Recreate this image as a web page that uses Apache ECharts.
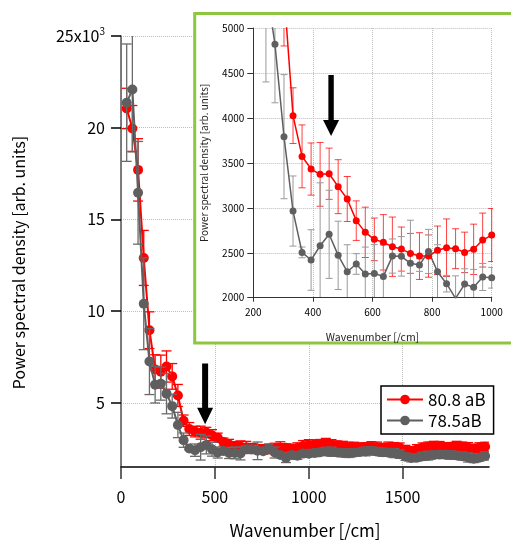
<!DOCTYPE html>
<html><head><meta charset="utf-8">
<script src="https://cdn.jsdelivr.net/npm/echarts@6/dist/echarts.min.js"></script>
<style>html,body{margin:0;padding:0;background:#fff}#c{width:511px;height:544px}</style>
</head><body><div id="c"></div>
<script>
const FONT = '"Noto Sans CJK JP", "Noto Sans", sans-serif';

// wavenumber [/cm] of each spectral point
const wavenumbers = [30.3, 60.6, 90.9, 121.2, 151.5, 181.8, 212.1, 242.4, 272.7, 303, 333.3, 363.6, 393.9, 424.2, 454.5, 484.8, 515.2, 545.5, 575.8, 606.1, 636.4, 666.7, 697, 727.3, 757.6, 787.9, 818.2, 848.5, 878.8, 909.1, 939.4, 969.7, 1000, 1030.3, 1060.6, 1090.9, 1121.2, 1151.5, 1181.8, 1212.1, 1242.4, 1272.7, 1303, 1333.3, 1363.6, 1393.9, 1424.2, 1454.5, 1484.8, 1515.2, 1545.5, 1575.8, 1606.1, 1636.4, 1666.7, 1697, 1727.3, 1757.6, 1787.9, 1818.2, 1848.5, 1878.8, 1909.1, 1939.4];

// 80.8 aB
const psdA = [21050, 19960, 17700, 12900, 8960, 6820, 6700, 6980, 6440, 5400, 4025, 3572, 3431, 3372, 3379, 3235, 3098, 2857, 2727, 2649, 2616, 2567, 2541, 2493, 2463, 2463, 2527, 2556, 2545, 2504, 2538, 2641, 2697, 2720, 2760, 2780, 2740, 2690, 2640, 2610, 2580, 2560, 2590, 2620, 2580, 2540, 2560, 2590, 2550, 2430, 2370, 2450, 2560, 2620, 2640, 2610, 2580, 2600, 2640, 2610, 2560, 2500, 2560, 2600];
const errA = [1100, 1250, 1700, 1500, 1000, 800, 900, 850, 700, 600, 310, 350, 290, 355, 285, 300, 250, 220, 280, 237, 308, 330, 245, 222, 260, 235, 270, 320, 222, 225, 280, 300, 295, 260, 240, 280, 250, 230, 260, 240, 270, 250, 230, 260, 280, 250, 300, 240, 260, 250, 230, 270, 250, 240, 260, 280, 250, 230, 260, 250, 270, 240, 260, 250];

// 78.5aB
const psdB = [21365, 22080, 16450, 10400, 7250, 5990, 6045, 5500, 4818, 3791, 2964, 2504, 2419, 2578, 2705, 2471, 2289, 2375, 2263, 2270, 2237, 2463, 2460, 2382, 2363, 2515, 2289, 2156, 1993, 2152, 2115, 2230, 2222, 2260, 2300, 2350, 2330, 2290, 2260, 2250, 2280, 2320, 2350, 2380, 2340, 2300, 2280, 2260, 2200, 2060, 1990, 2010, 2080, 2120, 2160, 2180, 2170, 2150, 2130, 2090, 2020, 1950, 2010, 2100];
const errB = [3200, 3400, 2800, 2500, 1800, 1000, 900, 1100, 650, 690, 390, 60, 337, 700, 490, 380, 300, 115, 300, 320, 350, 190, 220, 480, 70, 245, 300, 92, 250, 170, 200, 150, 115, 200, 180, 220, 250, 190, 210, 230, 200, 180, 240, 210, 190, 220, 200, 250, 230, 200, 210, 190, 220, 240, 200, 180, 210, 230, 200, 220, 250, 210, 190, 220];

const seriesNames = ['80.8 aB', '78.5aB'];
const mainXTicks = [0, 500, 1000, 1500];
const mainYTicks = [5000, 10000, 15000, 20000, 25000];

const RED = '#ff0000', GRAY = '#5f5f5f';

const pts = (v) => wavenumbers.map((x, i) => [x, v[i]]);
const errs = (v, e) => wavenumbers.map((x, i) => [x, v[i] - e[i], v[i] + e[i]]);
const plain = (v) => String(v);

function errRender(capHalf, color, lw) {
  return function (params, api) {
    const x = api.value(0), lo = api.value(1), hi = api.value(2);
    const pLo = api.coord([x, lo]), pHi = api.coord([x, hi]);
    const style = { stroke: color, lineWidth: lw, fill: null };
    return { type: 'group', children: [
      { type: 'line', shape: { x1: pLo[0], y1: pLo[1], x2: pHi[0], y2: pHi[1] }, style },
      { type: 'line', shape: { x1: pLo[0] - capHalf, y1: pLo[1], x2: pLo[0] + capHalf, y2: pLo[1] }, style },
      { type: 'line', shape: { x1: pHi[0] - capHalf, y1: pHi[1], x2: pHi[0] + capHalf, y2: pHi[1] }, style }
    ] };
  };
}

const chart = echarts.init(document.getElementById('c'), null, { renderer: 'canvas' });
const dotted = { show: true, lineStyle: { type: 'dotted', color: '#bdbdbd', width: 1 } };

const option = {
  animation: false,
  backgroundColor: '#fff',
  textStyle: { fontFamily: FONT },
  grid: [
    { left: 121, top: 36, width: 368, height: 435.5 },
    { left: 253.3, top: 28, width: 238.4, height: 269.7, z: 10 }
  ],
  xAxis: [
    { gridIndex: 0, type: 'value', min: 0, max: 1960,
      name: 'Wavenumber [/cm]', nameLocation: 'middle', nameGap: 55,
      nameTextStyle: { fontSize: 17, color: '#000', fontFamily: FONT },
      axisLine: { show: true, onZero: false, lineStyle: { color: '#000', width: 1.5 } },
      axisTick: { show: true, inside: false, length: 12, customValues: mainXTicks, lineStyle: { color: '#333', width: 1.5 } },
      axisLabel: { customValues: mainXTicks, formatter: plain, fontSize: 16, color: '#000', margin: 22, fontFamily: FONT },
      splitLine: dotted },
    { gridIndex: 1, type: 'value', min: 200, max: 1000, interval: 200, z: 12,
      name: 'Wavenumber [/cm]', nameLocation: 'middle', nameGap: 34,
      nameTextStyle: { fontSize: 10.5, color: '#222', fontFamily: FONT },
      axisLine: { show: true, onZero: false, lineStyle: { color: '#333', width: 1 } },
      axisTick: { show: true, length: 4, lineStyle: { color: '#333' } },
      axisLabel: { formatter: plain, fontSize: 10, color: '#000', margin: 10, fontFamily: FONT },
      splitLine: dotted }
  ],
  yAxis: [
    { gridIndex: 0, type: 'value', min: 1500, max: 25000,
      name: 'Power spectral density [arb. units]', nameLocation: 'middle', nameGap: 94,
      nameTextStyle: { fontSize: 16, color: '#000', fontFamily: FONT, padding: [0, 22, 0, 0] },
      axisLine: { show: true, onZero: false, lineStyle: { color: '#555', width: 1.5 } },
      axisTick: { show: true, length: 10, customValues: mainYTicks, lineStyle: { color: '#000', width: 1.5 } },
      axisLabel: { customValues: mainYTicks, fontSize: 16, color: '#000', margin: 16, fontFamily: FONT,
        formatter: (v) => v === 25000 ? '{a|25x10}{s|3}' : String(v / 1000),
        rich: { a: { fontSize: 16, fontFamily: FONT, color: '#000' },
                s: { fontSize: 10, fontFamily: FONT, color: '#000', padding: [0, 0, 10, 0] } } },
      splitLine: dotted },
    { gridIndex: 1, type: 'value', min: 2000, max: 5000, interval: 500, z: 12,
      name: 'Power spectral density [arb. units]', nameLocation: 'middle', nameGap: 44,
      nameTextStyle: { fontSize: 10, color: '#222', fontFamily: FONT },
      axisLine: { show: true, onZero: false, lineStyle: { color: '#333', width: 1 } },
      axisTick: { show: true, length: 6, lineStyle: { color: '#333' } },
      axisLabel: { formatter: plain, fontSize: 10, color: '#000', margin: 9, fontFamily: FONT },
      splitLine: dotted }
  ],
  legend: {
    data: seriesNames, orient: 'vertical', left: 381, top: 386,
    padding: [5, 8, 5, 5], itemGap: 4, itemWidth: 36, itemHeight: 12,
    borderColor: '#000', borderWidth: 1.5, backgroundColor: '#fff',
    textStyle: { fontSize: 17, color: '#000', fontFamily: FONT }
  },
  series: [
    { type: 'custom', name: seriesNames[0] + ' err', xAxisIndex: 0, yAxisIndex: 0, clip: true,
      renderItem: errRender(5, RED, 1.3), data: errs(psdA, errA), z: 2 },
    { type: 'line', name: seriesNames[0], xAxisIndex: 0, yAxisIndex: 0, data: pts(psdA),
      symbol: 'circle', symbolSize: 10, showAllSymbol: true, color: RED,
      lineStyle: { color: RED, width: 2 }, itemStyle: { color: RED }, z: 3 },
    { type: 'custom', name: seriesNames[1] + ' err', xAxisIndex: 0, yAxisIndex: 0, clip: true,
      renderItem: errRender(5, '#6a6a6a', 1.3), data: errs(psdB, errB), z: 4 },
    { type: 'line', name: seriesNames[1], xAxisIndex: 0, yAxisIndex: 0, data: pts(psdB),
      symbol: 'circle', symbolSize: 10, showAllSymbol: true, color: GRAY,
      lineStyle: { color: GRAY, width: 2 }, itemStyle: { color: GRAY }, z: 5 },

    { type: 'custom', name: 'inset A err', xAxisIndex: 1, yAxisIndex: 1, clip: true,
      renderItem: errRender(3.5, 'rgba(255,0,0,0.75)', 1), data: errs(psdA, errA), z: 12 },
    { type: 'custom', name: 'inset B err', xAxisIndex: 1, yAxisIndex: 1, clip: true,
      renderItem: errRender(3.5, '#9a9a9a', 1), data: errs(psdB, errB), z: 12 },
    { type: 'line', name: 'inset A', xAxisIndex: 1, yAxisIndex: 1, data: pts(psdA), clip: true,
      symbol: 'circle', symbolSize: 7, showAllSymbol: true, color: RED,
      lineStyle: { color: RED, width: 1.5 }, itemStyle: { color: RED }, z: 13 },
    { type: 'line', name: 'inset B', xAxisIndex: 1, yAxisIndex: 1, data: pts(psdB), clip: true,
      symbol: 'circle', symbolSize: 7, showAllSymbol: true, color: GRAY,
      lineStyle: { color: GRAY, width: 1.5 }, itemStyle: { color: GRAY }, z: 13 }
  ]
};
chart.setOption(option);

function arrow(p0, p1, hw, headHw, headLen, z) {
  const x = p0[0], yT = p0[1], yP = p1[1];
  return { type: 'polygon', z: z, shape: { points: [
    [x - hw, yT], [x + hw, yT], [x + hw, yP - headLen], [x + headHw, yP - headLen],
    [x, yP], [x - headHw, yP - headLen], [x - hw, yP - headLen]] },
    style: { fill: '#000' } };
}
const mTop = chart.convertToPixel({ gridIndex: 0 }, [448, 7140]);
const mTip = chart.convertToPixel({ gridIndex: 0 }, [448, 3835]);
const iTop = chart.convertToPixel({ gridIndex: 1 }, [461, 4477]);
const iTip = chart.convertToPixel({ gridIndex: 1 }, [461, 3799]);

chart.setOption({ graphic: [{ elements: [
  { type: 'rect', z: 8, shape: { x: 194.7, y: 13.5, width: 340, height: 329.5 },
    style: { fill: '#fff', stroke: '#8dc63f', lineWidth: 3 } },
  arrow(mTop, mTip, 3, 8, 16.5, 6),
  arrow(iTop, iTip, 2.7, 8, 16, 20)
] }] });
</script></body></html>
